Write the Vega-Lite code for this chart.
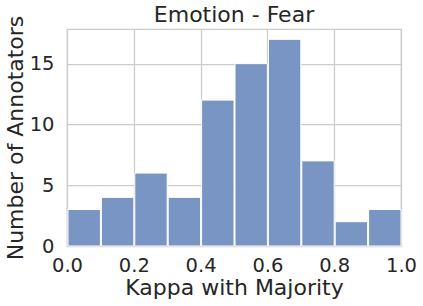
{
  "$schema": "https://vega.github.io/schema/vega-lite/v6.json",
  "autosize": "none",
  "width": 334,
  "height": 217,
  "padding": {"left": 67, "top": 29, "right": 22, "bottom": 60},
  "background": "white",
  "title": {"text": "Emotion - Fear", "font": "DejaVu Sans", "fontSize": 22, "fontWeight": "normal", "color": "#262626", "offset": -12},
  "data": {"values": [
    {"bin_start": 0.0, "bin_end": 0.1, "count": 3},
    {"bin_start": 0.1, "bin_end": 0.2, "count": 4},
    {"bin_start": 0.2, "bin_end": 0.3, "count": 6},
    {"bin_start": 0.3, "bin_end": 0.4, "count": 4},
    {"bin_start": 0.4, "bin_end": 0.5, "count": 12},
    {"bin_start": 0.5, "bin_end": 0.6, "count": 15},
    {"bin_start": 0.6, "bin_end": 0.7, "count": 17},
    {"bin_start": 0.7, "bin_end": 0.8, "count": 7},
    {"bin_start": 0.8, "bin_end": 0.9, "count": 2},
    {"bin_start": 0.9, "bin_end": 1.0, "count": 3}
  ]},
  "config": {
    "view": {"stroke": "#cccccc", "strokeWidth": 1.25},
    "axis": {
      "labelFont": "DejaVu Sans", "labelFontSize": 19.5, "labelColor": "#262626",
      "titleFont": "DejaVu Sans", "titleFontSize": 22, "titleFontWeight": "normal", "titleColor": "#262626",
      "gridColor": "#cccccc", "gridWidth": 1.25, "domain": false, "ticks": false, "grid": true, "labelFlush": false
    }
  },
  "mark": {"type": "bar", "fill": "#7995c4", "opacity": 1, "stroke": "white", "strokeWidth": 1},
  "encoding": {
    "x": {"field": "bin_start", "type": "quantitative", "bin": "binned", "scale": {"domain": [0, 1], "nice": false},
      "axis": {"values": [0, 0.2, 0.4, 0.6, 0.8, 1.0], "format": ".1f", "title": "Kappa with Majority", "labelPadding": 10, "titlePadding": 3, "grid": true, "labelFlush": false}},
    "x2": {"field": "bin_end"},
    "y": {"field": "count", "type": "quantitative", "scale": {"domain": [0, 17.85], "nice": false},
      "axis": {"values": [0, 5, 10, 15], "title": "Number of Annotators", "labelPadding": 13, "titlePadding": 2}}
  }
}
